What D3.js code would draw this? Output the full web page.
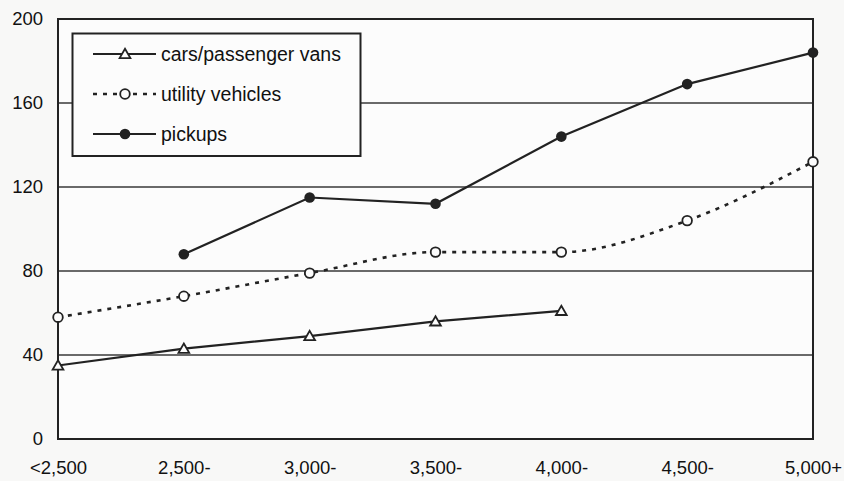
<!DOCTYPE html>
<html><head><meta charset="utf-8">
<script src="https://cdn.jsdelivr.net/npm/d3@7"></script>
<style>body{margin:0;background:#f8f8f7;}svg{display:block;}</style>
</head><body>
<svg id="c" width="844" height="481"></svg>
<script>
const categories = ["<2,500","2,500-","3,000-","3,500-","4,000-","4,500-","5,000+"];
const cars = [35, 43, 49, 56, 61, null, null];
const utility = [58, 68, 79, 89, 89, 104, 132];
const pickups = [null, 88, 115, 112, 144, 169, 184];
const yTicks = [0, 40, 80, 120, 160, 200];
const seriesNames = ["cars/passenger vans", "utility vehicles", "pickups"];

const svg = d3.select("#c");
const m = {l:58, r:813, t:19, b:439};
const x = d3.scalePoint().domain(categories).range([m.l, m.r]).padding(0);
const y = d3.scaleLinear().domain([0,200]).range([m.b, m.t]);
const ink = "#222";
const font = "Liberation Sans, Arial, sans-serif";

svg.append("rect").attr("width",844).attr("height",481).attr("fill","#f8f8f7");
svg.append("rect").attr("x",m.l).attr("y",m.t).attr("width",m.r-m.l).attr("height",m.b-m.t).attr("fill","#fcfcfc");

// gridlines
svg.append("g").selectAll("line").data(yTicks.filter(d=>d>0 && d<200)).join("line")
  .attr("x1",m.l).attr("x2",m.r).attr("y1",d=>y(d)).attr("y2",d=>y(d))
  .attr("stroke","#3a3a3a").attr("stroke-width",1.6);

// frame
svg.append("rect").attr("x",m.l).attr("y",m.t).attr("width",m.r-m.l).attr("height",m.b-m.t)
  .attr("fill","none").attr("stroke",ink).attr("stroke-width",2);

// y axis labels
const ya = svg.append("g").attr("transform",`translate(${m.l},0)`)
  .call(d3.axisLeft(y).tickValues(yTicks).tickSize(0).tickPadding(15).tickFormat(d3.format("d")));
ya.select(".domain").remove();
ya.selectAll("text").attr("font-family",font).attr("font-size",18.5).attr("fill","#111");

// x axis labels
const xa = svg.append("g").attr("transform",`translate(0,${m.b})`)
  .call(d3.axisBottom(x).tickSize(0).tickPadding(22));
xa.select(".domain").remove();
xa.selectAll("text").attr("font-family",font).attr("font-size",18.5).attr("fill","#111");

function pts(arr){ return categories.map((c,i)=>({c, v:arr[i]})).filter(d=>d.v!=null); }
const lineStraight = d3.line().x(d=>x(d.c)).y(d=>y(d.v));
const lineSmooth = d3.line().x(d=>x(d.c)).y(d=>y(d.v)).curve(d3.curveMonotoneX);

// utility (dashed)
svg.append("path").attr("d",lineSmooth(pts(utility))).attr("fill","none")
  .attr("stroke",ink).attr("stroke-width",2.6).attr("stroke-dasharray","4,6");
// cars
svg.append("path").attr("d",lineStraight(pts(cars))).attr("fill","none")
  .attr("stroke",ink).attr("stroke-width",2.2);
// pickups
svg.append("path").attr("d",lineStraight(pts(pickups))).attr("fill","none")
  .attr("stroke",ink).attr("stroke-width",2.2);

const tri = d3.symbol().type(d3.symbolTriangle).size(50);
function drawMarkers(g, kind){
  if(kind===0) g.append("path").attr("d",tri()).attr("fill","#fcfcfc").attr("stroke",ink).attr("stroke-width",1.8);
  if(kind===1) g.append("circle").attr("r",4.8).attr("fill","#fcfcfc").attr("stroke",ink).attr("stroke-width",1.8);
  if(kind===2) g.append("circle").attr("r",5.3).attr("fill",ink);
}
[cars, utility, pickups].forEach((arr,k)=>{
  svg.append("g").selectAll("g").data(pts(arr)).join("g")
    .attr("transform",d=>`translate(${x(d.c)},${y(d.v)+(k===0?1:0)})`)
    .each(function(){ drawMarkers(d3.select(this),k); });
});

// legend
const lg = svg.append("g");
lg.append("rect").attr("x",72.5).attr("y",33.5).attr("width",288).attr("height",122.5)
  .attr("fill","#fcfcfc").attr("stroke",ink).attr("stroke-width",2);
seriesNames.forEach((name,k)=>{
  const cy = 54 + k*40;
  lg.append("line").attr("x1",93).attr("x2",156).attr("y1",cy).attr("y2",cy)
    .attr("stroke",ink).attr("stroke-width",k===1?2.6:2.2)
    .attr("stroke-dasharray",k===1?"4,6":null);
  const g = lg.append("g").attr("transform",`translate(125,${cy+(k===0?1:0)})`);
  drawMarkers(g,k);
  lg.append("text").attr("x",161).attr("y",cy).attr("dy","0.35em")
    .attr("font-family",font).attr("font-size",19.5).attr("fill","#111").text(name);
});
</script>
</body></html>
